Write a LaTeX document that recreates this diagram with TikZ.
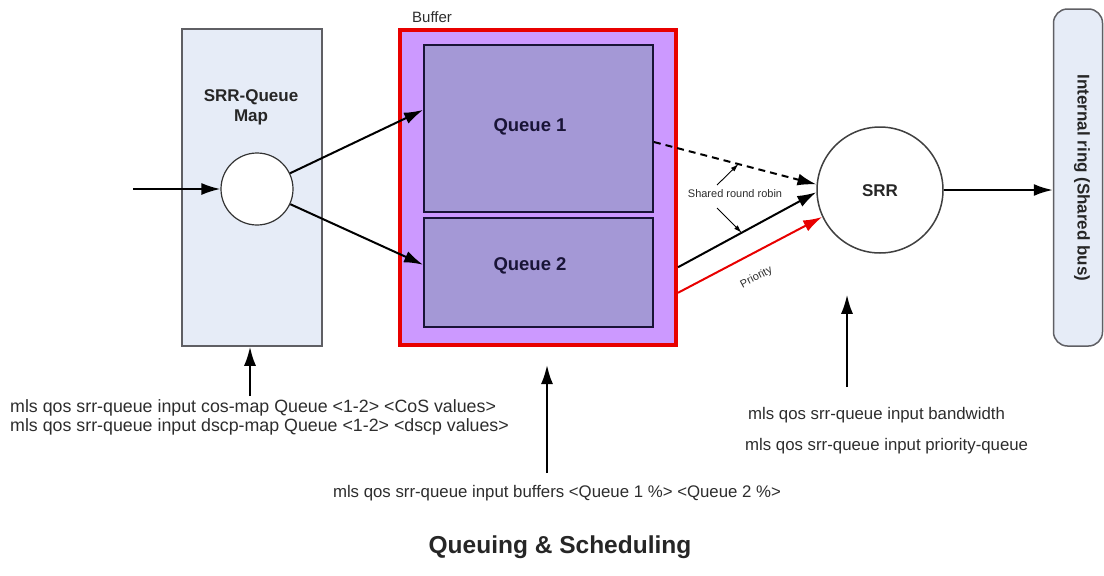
\documentclass[tikz,border=0pt]{standalone}
\usepackage{fontspec}
\setmainfont{Liberation Sans}
\usetikzlibrary{arrows.meta, calc}
\definecolor{mapfill}  {RGB}{230,236,247}
\definecolor{mapedge}  {RGB}{ 95, 95,100}
\definecolor{buffill}  {RGB}{204,153,255}
\definecolor{bufred}   {RGB}{232,  0,  0}
\definecolor{queuefill}{RGB}{164,152,214}
\definecolor{queueedge}{RGB}{ 25, 20, 55}
\definecolor{txtgray}  {RGB}{ 45, 45, 45}
\tikzset{
  map box/.style   = {draw=mapedge, fill=mapfill, line width=1.5pt, inner sep=0pt},
  buffer box/.style= {draw=bufred, fill=buffill, line width=4pt, inner sep=0pt},
  queue box/.style = {draw=queueedge, fill=queuefill, line width=1.8pt, inner sep=0pt,
                      text=queueedge, font=\fontsize{18.5}{20}\selectfont\bfseries},
  ring box/.style  = {draw=mapedge, fill=mapfill, line width=1.5pt, inner sep=0pt,
                      rounded corners=14pt},
  hub/.style       = {circle, draw=black!80, fill=white, line width=1.2pt, inner sep=0pt},
  flow/.style      = {-{Latex[length=19pt, width=12pt]}, line width=2pt},
  note arrow/.style= {-{Latex[length=8pt, width=5pt]}, line width=0.9pt},
  cmd/.style       = {text=txtgray, inner sep=0pt, font=\fontsize{16.8}{19}\selectfont},
  tiny/.style      = {text=txtgray, inner sep=0pt, font=\fontsize{11}{12}\selectfont},
  bold lbl/.style  = {text=black!85, inner sep=0pt, align=center,
                      font=\fontsize{17}{20}\selectfont\bfseries},
}

\begin{document}
\begin{tikzpicture}[x=1pt, y=-1pt]
  \useasboundingbox (0,0) rectangle (1104,576);

  % ── SRR-queue map ─────────────────────────────────────────────────────────
  \node[map box, minimum width=140pt, minimum height=317pt] (mapbox) at (252,187.5) {};
  \node[bold lbl] (maplbl) at (251,107) {SRR-Queue\\Map};
  \node[hub, minimum size=72pt] (mapc) at (257,189) {};
  \coordinate (in) at (133,189);
  \draw[flow] (in) -- (mapc);

  % ── buffer with the two queues ────────────────────────────────────────────
  \node[buffer box, minimum width=276pt, minimum height=315pt] (buf) at (538,187.5) {};
  \node[cmd, anchor=west, font=\fontsize{15}{16}\selectfont] (buflbl) at (412,17) {Buffer};
  \node[queue box, minimum width=229pt, minimum height=167pt] (q1) at (538.5,128.5) {};
  \node[queue box, minimum width=229pt, minimum height=109pt] (q2) at (538.5,272.5) {};
  \node[queue box, draw=none, fill=none] (q1lbl) at (530,127) {Queue 1};
  \node[queue box, draw=none, fill=none] (q2lbl) at (530,266) {Queue 2};

  \draw[flow] (mapc) -- ($(q1.north west)!0.39!(q1.south west)$);
  \draw[flow] (mapc) -- ($(q2.north west)!0.43!(q2.south west)$);

  % ── scheduler and shared ring ─────────────────────────────────────────────
  \node[hub, draw=black!75, line width=1.5pt, minimum size=126pt] (srr) at (880,190) {};
  \node[bold lbl] (srrlbl) at (880,191) {SRR};
  \node[ring box, minimum width=49pt, minimum height=337pt] (ring) at (1078,177.5) {};
  \node[bold lbl, rotate=-90] (ringlbl) at (1082,178) {Internal ring (Shared bus)};
  \draw[flow] (srr) -- (ring.west |- srr);

  % queues -> SRR (round robin and priority)
  \draw[flow, dashed, dash pattern=on 7pt off 5pt]
    ($(q1.north east)!0.58!(q1.south east)$) -- (srr.175)
    coordinate[pos=0.52] (rrtop);
  \draw[flow] ($(buf.north east)!0.75!(buf.south east)$) -- (srr.182)
    coordinate[pos=0.46] (rrbot);
  \draw[flow, bufred] ($(buf.north east)!0.83!(buf.south east)$) -- (srr.205)
    node[tiny, pos=0.47, sloped, below=17pt] (prilbl) {Priority};

  \node[tiny] (rrlbl) at (735,194) {Shared round robin};
  \coordinate (rr1) at (717,185);
  \coordinate (rr2) at (717,208);
  \draw[note arrow] (rr1) -- (rrtop);
  \draw[note arrow] (rr2) -- (rrbot);

  % ── configuration commands ────────────────────────────────────────────────
  \node[cmd, anchor=west, font=\fontsize{17.8}{19}\selectfont] (cmdcos)  at (10,408)
    {mls qos srr-queue input cos-map Queue <1-2> <CoS values>};
  \node[cmd, anchor=west, font=\fontsize{17.8}{19}\selectfont] (cmddscp) at (10,427)
    {mls qos srr-queue input dscp-map Queue <1-2> <dscp values>};
  \coordinate (cosa) at (250,396);
  \draw[flow] (cosa) -- (cosa |- mapbox.south);

  \node[cmd] (cmdbuf) at (557,493) {mls qos srr-queue input buffers <Queue 1 \%> <Queue 2 \%>};
  \coordinate (bufa) at (547,473);
  \draw[flow, shorten >=18pt] (bufa) -- (bufa |- buf.south);

  \node[cmd, anchor=west] (cmdbw)  at (748,415) {mls qos srr-queue input bandwidth};
  \node[cmd, anchor=west] (cmdpri) at (745,446) {mls qos srr-queue input priority-queue};
  \coordinate (srra) at (847,387);
  \draw[flow, shorten >=41pt] (srra) -- (srra |- srr.south);

  % ── caption ───────────────────────────────────────────────────────────────
  \node[bold lbl, font=\fontsize{24.5}{26}\selectfont\bfseries] (title) at (560,547)
    {Queuing \& Scheduling};

\end{tikzpicture}
\end{document}
